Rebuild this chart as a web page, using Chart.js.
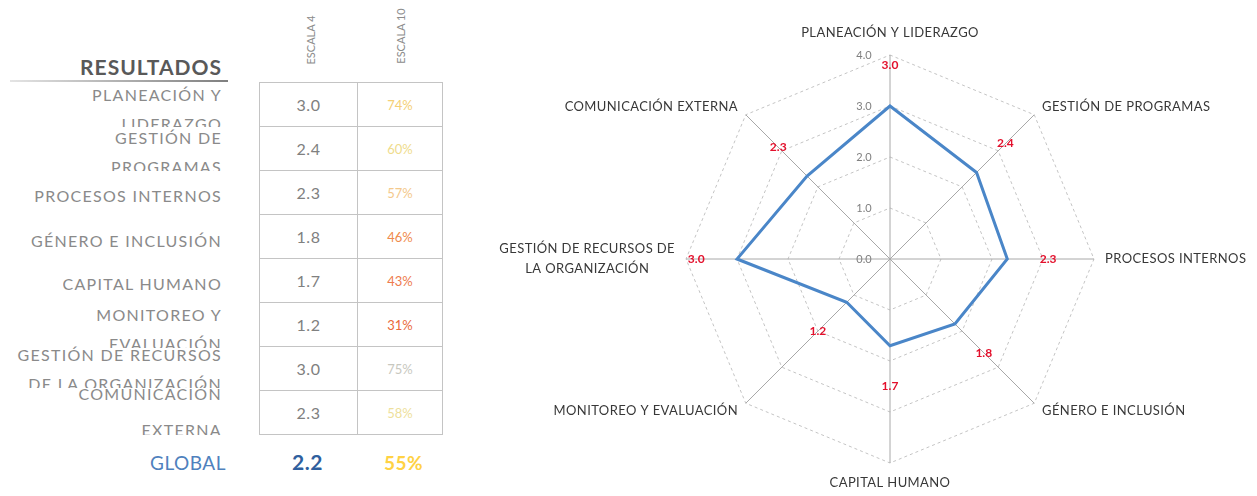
<!DOCTYPE html>
<html>
<head>
<meta charset="utf-8">
<script src="https://cdn.jsdelivr.net/npm/chart.js@4.4.0/dist/chart.umd.min.js"></script>
<style>
  body { margin: 0; width: 1257px; height: 496px; background: #fff; position: relative; overflow: hidden; font-family: Lato, 'Open Sans', sans-serif; }
  #titulo { position: absolute; left: 0; width: 222px; top: 54px; text-align: right; font-size: 21px; letter-spacing: 1px; font-weight: bold; color: #595959; }
  #raya { position: absolute; left: 10px; width: 218px; top: 80px; height: 2px; background: linear-gradient(to right, #e4e4e4, #7f7f7f); }
  .escala { position: absolute; font-size: 11px; color: #8c8c8c; transform: translate(-50%, -50%) rotate(-90deg); white-space: nowrap; }
  .etiqueta { position: absolute; right: 1035px; overflow: hidden; text-align: right; font-size: 16px; letter-spacing: 1.3px; color: #8a8a8a; white-space: nowrap; }
  #tabla { position: absolute; left: 259px; top: 82px; border-collapse: collapse; }
  #tabla td { border: 1px solid #c4c4c4; height: 43px; padding: 0; text-align: center; font-size: 16px; letter-spacing: 0.5px; color: #808080; }
  #tabla td.c1 { width: 97px; }
  #tabla td.c2 { width: 84px; font-size: 13px; letter-spacing: 0; }
  .global { position: absolute; top: 451px; font-size: 19px; letter-spacing: 0.5px; }
  #radar { position: absolute; left: 480px; top: 0; }
</style>
</head>
<body>
<div id="titulo">RESULTADOS</div>
<div id="raya"></div>
<div class="escala" style="left:310px; top:40px;">ESCALA 4</div>
<div class="escala" style="left:400px; top:36px;">ESCALA 10</div>
<div id="etiquetas"></div>
<table id="tabla"><tbody id="cuerpo"></tbody></table>
<div class="global" style="left:150px; color:#4f81bd;">GLOBAL</div>
<div class="global" id="g4" style="left:292px; color:#2f5f9e; font-weight:bold; font-size:21px; top:449px;"></div>
<div class="global" id="g10" style="left:384px; color:#ffd244; font-weight:bold;"></div>
<canvas id="radar" width="777" height="496"></canvas>

<script>
// datos
const categorias = ['PLANEACIÓN Y LIDERAZGO', 'GESTIÓN DE PROGRAMAS', 'PROCESOS INTERNOS', 'GÉNERO E INCLUSIÓN',
  'CAPITAL HUMANO', 'MONITOREO Y EVALUACIÓN', ['GESTIÓN DE RECURSOS DE', 'LA ORGANIZACIÓN'], 'COMUNICACIÓN EXTERNA'];
const etiquetasTabla = [['PLANEACIÓN Y', 'LIDERAZGO'], ['GESTIÓN DE', 'PROGRAMAS'], ['PROCESOS INTERNOS'], ['GÉNERO E INCLUSIÓN'],
  ['CAPITAL HUMANO'], ['MONITOREO Y', 'EVALUACIÓN'], ['GESTIÓN DE RECURSOS', 'DE LA ORGANIZACIÓN'], ['COMUNICACIÓN', 'EXTERNA']];
const escala4 = [3.0, 2.4, 2.3, 1.8, 1.7, 1.2, 3.0, 2.3];
const escala10 = [74, 60, 57, 46, 43, 31, 75, 58];
const global4 = 2.2;
const global10 = 55;
const ticksRadar = [0, 1, 2, 3, 4];

// estilos de la tabla
const coloresPct = ['#f5cf76', '#efdc8c', '#f4c98c', '#ef8a4c', '#ee7b4d', '#ea6a3a', '#c8c8c0', '#eedf9c'];
// top, alto visible, interlineado de cada etiqueta
const cajas = [[80, 47, 29], [123, 48, 29], [181, 29, 29], [226, 29, 29], [269, 29, 29], [300, 48, 29], [340, 48, 29], [376, 59, 36]];

const cont = document.getElementById('etiquetas');
etiquetasTabla.forEach(function(lineas, i) {
  const d = document.createElement('div');
  d.className = 'etiqueta';
  d.style.top = cajas[i][0] + 'px';
  d.style.height = cajas[i][1] + 'px';
  d.style.lineHeight = cajas[i][2] + 'px';
  d.innerHTML = lineas.join('<br>');
  cont.appendChild(d);
});

const cuerpo = document.getElementById('cuerpo');
escala4.forEach(function(v, i) {
  const tr = document.createElement('tr');
  tr.innerHTML = '<td class="c1">' + v.toFixed(1) + '</td><td class="c2" style="color:' + coloresPct[i] + '">' + escala10[i] + '%</td>';
  cuerpo.appendChild(tr);
});
document.getElementById('g4').textContent = global4.toFixed(1);
document.getElementById('g10').textContent = global10 + '%';

// textos del radar: etiquetas de eje, ticks y valores
const textosRadar = {
  id: 'textosRadar',
  afterDatasetsDraw(chart) {
    const r = chart.scales.r;
    const ctx = chart.ctx;
    ctx.save();

    // ticks
    ctx.font = '11px Lato, sans-serif';
    ctx.fillStyle = '#7f7f7f';
    ctx.textAlign = 'center';
    ctx.textBaseline = 'middle';
    ticksRadar.forEach(function(t) {
      ctx.fillText(t.toFixed(1), r.xCenter - 26, r.yCenter - r.getDistanceFromCenterForValue(t));
    });

    // etiquetas de categorías
    ctx.font = '13px Lato, sans-serif';
    ctx.letterSpacing = '0.4px';
    ctx.fillStyle = '#383838';
    categorias.forEach(function(lab, i) {
      const ang = r.getIndexAngle(i);
      const sx = Math.sin(ang), cy = -Math.cos(ang);
      let extra = 11;
      if (Math.abs(sx) < 0.01) extra = cy < 0 ? 22 : 20;
      const p = r.getPointPosition(i, r.drawingArea + extra);
      ctx.textAlign = Math.abs(sx) < 0.01 ? 'center' : (sx > 0 ? 'left' : 'right');
      const lineas = Array.isArray(lab) ? lab : [lab];
      lineas.forEach(function(l, k) {
        const y = p.y + (k - (lineas.length - 1) / 2) * 20;
        if (lineas.length > 1) {
          const w = ctx.measureText(lineas[0]).width;
          ctx.textAlign = 'center';
          ctx.fillText(l, p.x - w / 2, y);
        } else {
          ctx.fillText(l, p.x, y);
        }
      });
    });
    ctx.letterSpacing = '0px';

    // valores
    ctx.font = 'bold 12px Lato, sans-serif';
    ctx.fillStyle = '#e3102c';
    ctx.textAlign = 'center';
    escala4.forEach(function(v, i) {
      const p = r.getPointPositionForValue(i, v + 0.8);
      ctx.fillText(v.toFixed(1), p.x, p.y);
    });
    ctx.restore();
  }
};

new Chart(document.getElementById('radar'), {
  type: 'radar',
  data: {
    labels: categorias,
    datasets: [{
      data: escala4,
      borderColor: '#4a86c8',
      borderWidth: 3,
      fill: false,
      pointRadius: 0,
      tension: 0
    }]
  },
  options: {
    responsive: false,
    animation: false,
    layout: { padding: { left: 206, right: 163, top: 55, bottom: 33 } },
    plugins: { legend: { display: false }, tooltip: { enabled: false } },
    scales: {
      r: {
        min: 0,
        max: 4,
        ticks: { display: false, stepSize: 1 },
        pointLabels: { display: false },
        grid: { color: '#c4c4c4', lineWidth: 1 },
        border: { dash: [3, 3] },
        angleLines: { color: '#a8a8a8', lineWidth: 1 }
      }
    }
  },
  plugins: [textosRadar]
});
</script>
</body>
</html>
